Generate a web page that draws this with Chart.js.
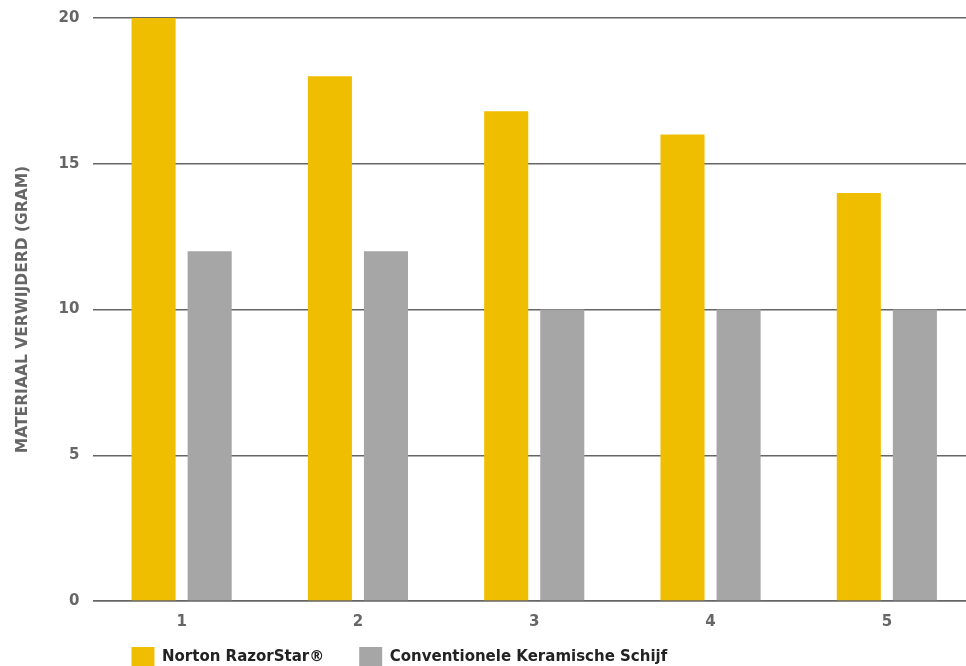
<!DOCTYPE html>
<html>
<head>
<meta charset="utf-8">
<script src="https://cdn.jsdelivr.net/npm/chart.js@4/dist/chart.umd.min.js"></script>
<style>
  html, body { margin: 0; padding: 0; background: #fff; overflow: hidden; }
  #wrap { position: relative; width: 975px; height: 700px; }
</style>
</head>
<body>
<div id="wrap"><canvas id="materialChart"></canvas></div>
<script>
// categories and values
const categories = ['1', '2', '3', '4', '5'];
const razorStar = [20, 18, 16.8, 16, 14];
const conventional = [12, 12, 10, 10, 10];
const seriesNames = ['Norton RazorStar®', 'Conventionele Keramische Schijf'];
const yTitle = 'MATERIAAL VERWIJDERD (GRAM)';

const legendGap = 35;

// place the legend under the first bar, just below the x labels
const legendShift = {
  id: 'legendShift',
  afterLayout(chart) {
    chart.legend.left = chart.chartArea.left + 3;
    chart.legend.top = chart.chartArea.bottom + 56 - legendGap - 10;
  }
};

const ctx = document.getElementById('materialChart').getContext('2d');
const materialChart = new Chart(ctx, {
  type: 'bar',
  data: {
    labels: categories,
    datasets: [
      {
        label: seriesNames[0],
        data: razorStar,
        backgroundColor: '#F0BE00',
        categoryPercentage: 0.636,
        barPercentage: 0.786,
      },
      {
        label: seriesNames[1],
        data: conventional,
        backgroundColor: '#A6A6A6',
        categoryPercentage: 0.636,
        barPercentage: 0.786,
      }
    ]
  },
  options: {
    responsive: true,
    maintainAspectRatio: false,
    animation: false,
    layout: { padding: { top: 18, left: 0, right: 0, bottom: 0 } },
    scales: {
      x: {
        grid: { display: false },
        border: { display: true, color: '#666', width: 1.5 },
        ticks: {
          color: '#666',
          padding: 4,
          font: { family: 'DejaVu Sans', size: 15, weight: 'bold' }
        }
      },
      y: {
        min: 0,
        max: 20,
        // keep the top gridline close to the edge like the original
        afterFit: (scale) => { scale.paddingTop = 0; },
        ticks: {
          stepSize: 5,
          color: '#666',
          padding: 14,
          font: { family: 'DejaVu Sans', size: 15, weight: 'bold' }
        },
        grid: { color: '#666', lineWidth: 1.5, drawTicks: false },
        border: { display: false },
        title: {
          display: true,
          text: yTitle,
          color: '#666',
          padding: { top: 14, bottom: 12 },
          font: { family: 'DejaVu Sans', size: 15.5, weight: 'bold' }
        }
      }
    },
    plugins: {
      legend: {
        position: 'bottom',
        align: 'start',
        labels: {
          boxWidth: 23,
          boxHeight: 20,
          padding: legendGap,
          color: '#222',
          font: { family: 'DejaVu Sans', size: 15, weight: 'bold' }
        }
      },
      tooltip: { enabled: false }
    }
  },
  plugins: [legendShift]
});
</script>
</body>
</html>
